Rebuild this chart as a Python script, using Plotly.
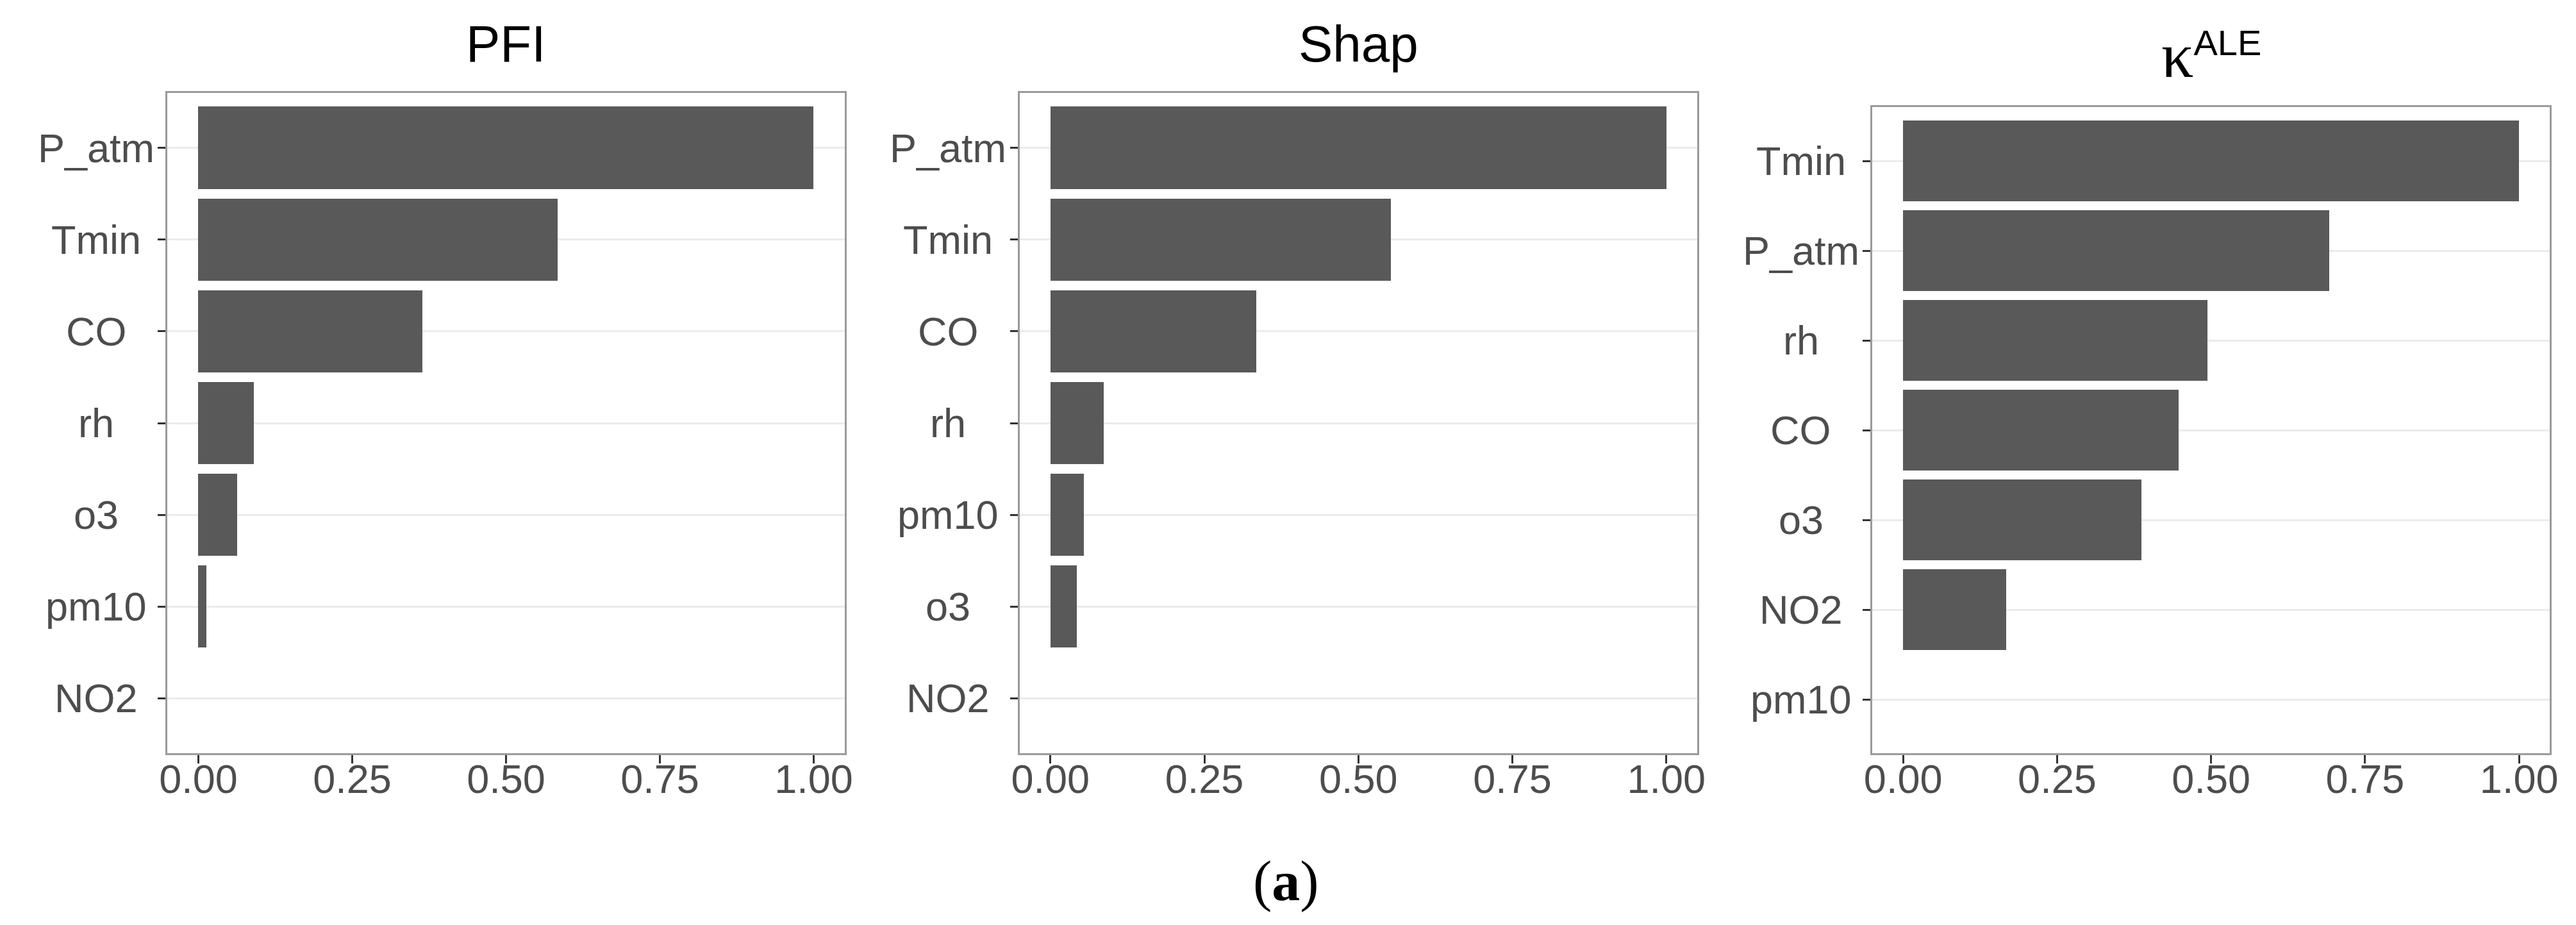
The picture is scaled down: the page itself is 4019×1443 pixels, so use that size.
import plotly.graph_objects as go

# ---- data ----
pfi_features = ["P_atm", "Tmin", "CO", "rh", "o3", "pm10", "NO2"]
pfi_values = [1.00, 0.584, 0.365, 0.091, 0.064, 0.014, 0.0]

shap_features = ["P_atm", "Tmin", "CO", "rh", "pm10", "o3", "NO2"]
shap_values = [1.00, 0.553, 0.334, 0.086, 0.054, 0.043, 0.0]

ale_features = ["Tmin", "P_atm", "rh", "CO", "o3", "NO2", "pm10"]
ale_values = [1.00, 0.692, 0.494, 0.447, 0.387, 0.167, 0.0]

x_tickvals = [0, 0.25, 0.5, 0.75, 1.0]
x_ticktext = ["0.00", "0.25", "0.50", "0.75", "1.00"]

panel_titles = ["PFI", "Shap",
                "<span style='font-family:\"Liberation Serif\";font-size:100px'>κ</span><sup>ALE</sup>"]
caption = "(<b>a</b>)"

W, H = 4019, 1443
FONT = "Liberation Sans"
BAR = "#595959"
TXT = "#4d4d4d"

# panel boxes in pixels (left, right, top, bottom)
boxes = [(242, 1305, 137, 1167), (1580, 2644, 137, 1167), (2919, 3983, 159, 1167)]
panels = [(pfi_features, pfi_values), (shap_features, shap_values), (ale_features, ale_values)]

fig = go.Figure()
annotations = []
for i, ((feats, vals), (l, r, t, b)) in enumerate(zip(panels, boxes)):
    n = i + 1
    xa = "x" if n == 1 else f"x{n}"
    ya = "y" if n == 1 else f"y{n}"
    fig.add_trace(go.Bar(
        x=vals, y=feats, orientation="h", width=0.9,
        marker=dict(color=BAR, line=dict(width=0)),
        xaxis=xa, yaxis=ya, showlegend=False,
    ))
    xdom = [l / W, r / W]
    ydom = [1 - b / H, 1 - t / H]
    fig.layout[f"xaxis{'' if n == 1 else n}"] = dict(
        domain=xdom, anchor=ya, range=[-0.05, 1.05],
        tickvals=x_tickvals, ticktext=x_ticktext,
        showgrid=False, zeroline=False,
        showline=True, mirror=True, linecolor="#9a9a9a", linewidth=3,
        ticks="outside", ticklen=13, tickwidth=3, tickcolor="#333333",
        ticklabelstandoff=-30,
        tickfont=dict(family=FONT, size=63, color=TXT),
    )
    fig.layout[f"yaxis{'' if n == 1 else n}"] = dict(
        domain=ydom, anchor=xa, type="category",
        categoryorder="array", categoryarray=feats,
        range=[len(feats) - 0.4, -0.6],
        showgrid=True, gridcolor="#ebebeb", gridwidth=3,
        zeroline=False,
        showline=True, mirror=True, linecolor="#9a9a9a", linewidth=3,
        ticks="outside", ticklen=12, tickwidth=3, tickcolor="#333333",
        showticklabels=False,
    )
    # centered category labels
    for f in feats:
        annotations.append(dict(
            text=f, x=-0.1054, xref=f"{xa} domain", y=f, yref=ya,
            xanchor="center", yanchor="middle", showarrow=False,
            font=dict(family=FONT, size=63, color=TXT),
        ))
    # panel title
    ty = 60 if n < 3 else 78
    annotations.append(dict(
        text=panel_titles[i], x=(l + r) / 2 / W, xref="paper",
        y=1 - ty / H, yref="paper", xanchor="center", yanchor="middle",
        showarrow=False, font=dict(family=FONT, size=80, color="black"),
    ))

annotations.append(dict(
    text=caption, x=1998 / W, xref="paper", y=1 - 1366 / H, yref="paper",
    xanchor="center", yanchor="middle", showarrow=False,
    font=dict(family="Liberation Serif", size=88, color="black"),
))

fig.update_layout(
    width=W, height=H, margin=dict(l=0, r=0, t=0, b=0),
    paper_bgcolor="white", plot_bgcolor="white",
    annotations=annotations, bargap=0,
)

fig.write_html("out.html")
